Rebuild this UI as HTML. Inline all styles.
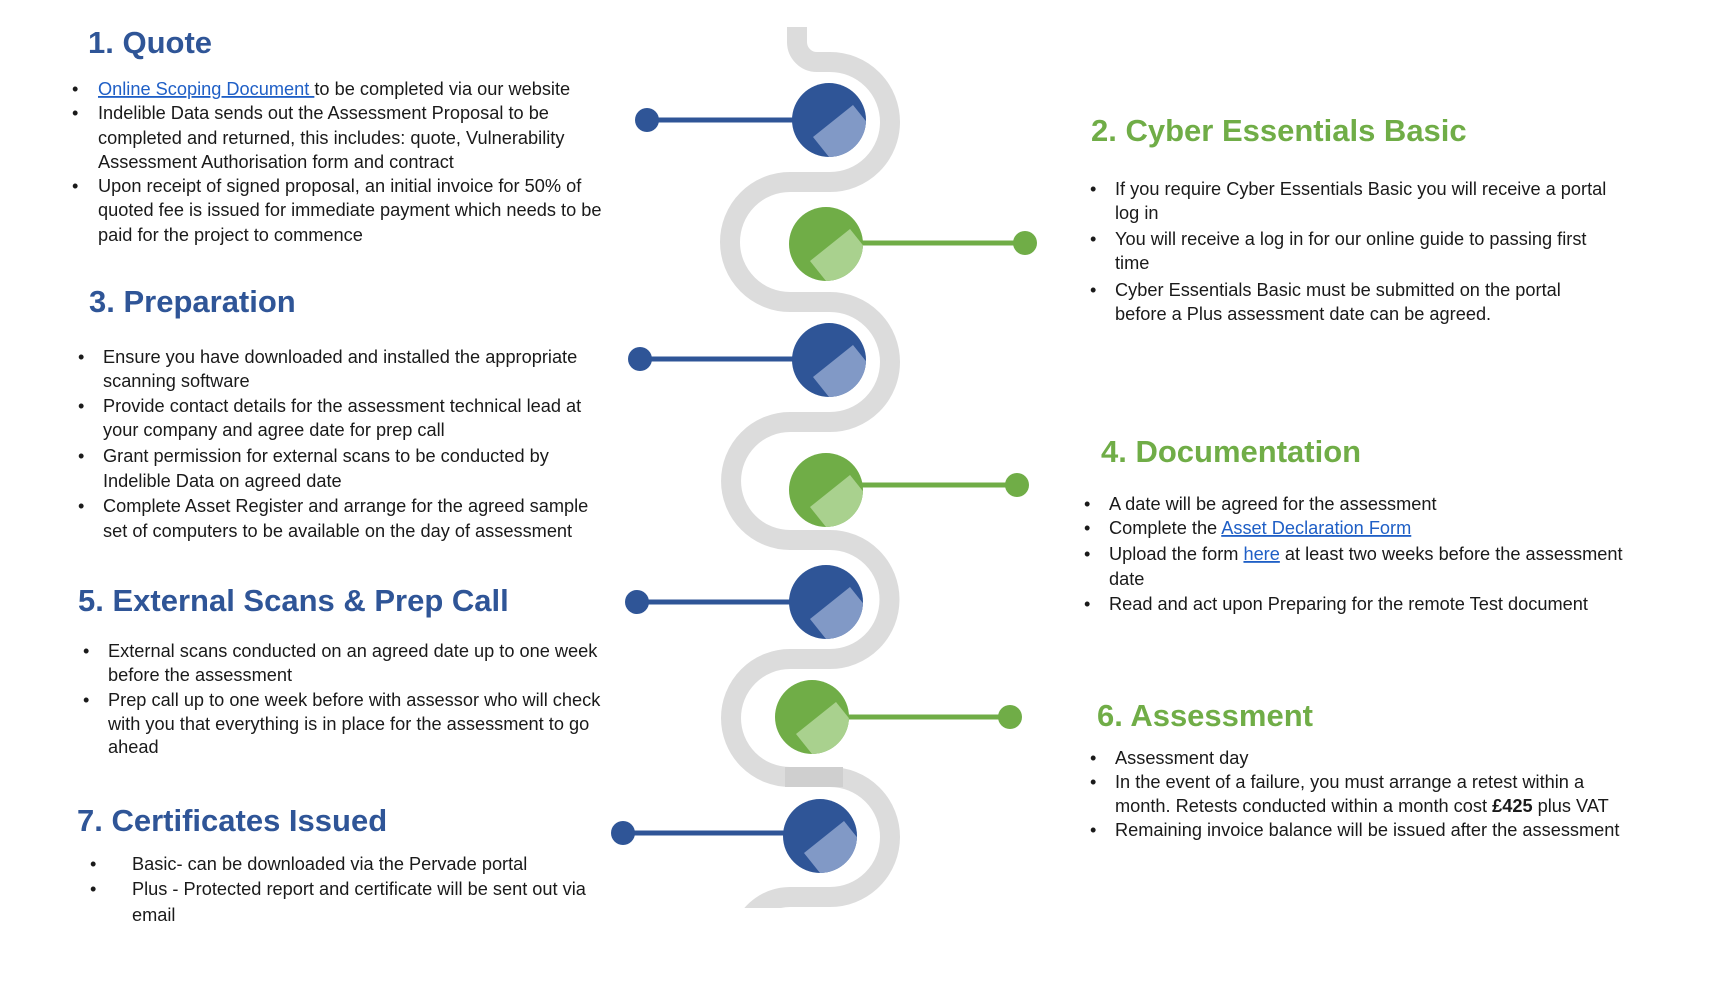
<!DOCTYPE html>
<html><head><meta charset="utf-8"><style>
html,body{margin:0;padding:0;background:#fff;}
svg{display:block;}
text{font-family:"Liberation Sans",Arial,sans-serif;}
.h{font-weight:bold;font-size:31px;}
.b{fill:#2F5597;}
.g{fill:#70AD47;}
.t{font-size:18.2px;fill:#1a1a1a;}
.l{fill:#1F5FC6;text-decoration:underline;}
</style></head><body>
<svg width="1714" height="995" viewBox="0 0 1714 995" xmlns="http://www.w3.org/2000/svg">
<defs>
<clipPath id="road"><rect x="0" y="0" width="1714" height="908"/></clipPath>
<clipPath id="cc"><circle cx="0" cy="0" r="37"/></clipPath>
<g id="nb"><circle cx="0" cy="0" r="37" fill="#2F5597"/><polygon clip-path="url(#cc)" points="-16,17 24,-15 56,25 16,57" fill="#8199C6"/></g>
<g id="ng"><circle cx="0" cy="0" r="37" fill="#70AD47"/><polygon clip-path="url(#cc)" points="-16,17 24,-15 56,25 16,57" fill="#A9D18E"/></g>
</defs>
<g clip-path="url(#road)">
<path d="M797,27 V42 A20,20 0 0 0 817,62 H830 A60,60 0 0 1 830,182 H790 A60,60 0 0 0 790,302 H830 A60,60 0 0 1 830,422 H790 A59,59 0 0 0 790,540 H830 A59.5,59.5 0 0 1 830,659 H790 A59,59 0 0 0 790,777 H830 A60,60 0 0 1 830,897 H790 A50,50 0 0 0 743,930" fill="none" stroke="#dcdcdc" stroke-width="20"/>
</g>
<rect x="785" y="767" width="58" height="20" fill="#cfcfcf"/>

<g stroke-width="5">
<line x1="647" y1="120" x2="800" y2="120" stroke="#2F5597"/>
<line x1="850" y1="243" x2="1025" y2="243" stroke="#70AD47"/>
<line x1="640" y1="359" x2="800" y2="359" stroke="#2F5597"/>
<line x1="850" y1="485" x2="1017" y2="485" stroke="#70AD47"/>
<line x1="637" y1="602" x2="800" y2="602" stroke="#2F5597"/>
<line x1="840" y1="717" x2="1010" y2="717" stroke="#70AD47"/>
<line x1="623" y1="833" x2="800" y2="833" stroke="#2F5597"/>
</g>
<circle cx="647" cy="120" r="12" fill="#2F5597"/>
<circle cx="1025" cy="243" r="12" fill="#70AD47"/>
<circle cx="640" cy="359" r="12" fill="#2F5597"/>
<circle cx="1017" cy="485" r="12" fill="#70AD47"/>
<circle cx="637" cy="602" r="12" fill="#2F5597"/>
<circle cx="1010" cy="717" r="12" fill="#70AD47"/>
<circle cx="623" cy="833" r="12" fill="#2F5597"/>

<use href="#nb" transform="translate(829,120)"/>
<use href="#ng" transform="translate(826,244)"/>
<use href="#nb" transform="translate(829,360)"/>
<use href="#ng" transform="translate(826,490)"/>
<use href="#nb" transform="translate(826,602)"/>
<use href="#ng" transform="translate(812,717)"/>
<use href="#nb" transform="translate(820,836)"/>

<text class="h b" x="88" y="53">1. Quote</text>
<g class="t">
<text x="72" y="95">•</text><text x="98" y="95"><tspan class="l">Online Scoping Document </tspan>to be completed via our website</text>
<text x="72" y="119">•</text><text x="98" y="119">Indelible Data sends out the Assessment Proposal to be</text>
<text x="98" y="144">completed and returned, this includes: quote, Vulnerability</text>
<text x="98" y="168">Assessment Authorisation form and contract</text>
<text x="72" y="192">•</text><text x="98" y="192">Upon receipt of signed proposal, an initial invoice for 50% of</text>
<text x="98" y="216">quoted fee is issued for immediate payment which needs to be</text>
<text x="98" y="241">paid for the project to commence</text>
</g>

<text class="h b" x="89" y="312">3. Preparation</text>
<g class="t">
<text x="78" y="363">•</text><text x="103" y="363">Ensure you have downloaded and installed the appropriate</text>
<text x="103" y="387">scanning software</text>
<text x="78" y="412">•</text><text x="103" y="412">Provide contact details for the assessment technical lead at</text>
<text x="103" y="436">your company and agree date for prep call</text>
<text x="78" y="462">•</text><text x="103" y="462">Grant permission for external scans to be conducted by</text>
<text x="103" y="487">Indelible Data on agreed date</text>
<text x="78" y="512">•</text><text x="103" y="512">Complete Asset Register and arrange for the agreed sample</text>
<text x="103" y="537">set of computers to be available on the day of assessment</text>
</g>

<text class="h b" x="78" y="611">5. External Scans &amp; Prep Call</text>
<g class="t">
<text x="83" y="657">•</text><text x="108" y="657">External scans conducted on an agreed date up to one week</text>
<text x="108" y="681">before the assessment</text>
<text x="83" y="706">•</text><text x="108" y="706">Prep call up to one week before with assessor who will check</text>
<text x="108" y="730">with you that everything is in place for the assessment to go</text>
<text x="108" y="753">ahead</text>
</g>

<text class="h b" x="77" y="831">7. Certificates Issued</text>
<g class="t">
<text x="90" y="870">•</text><text x="132" y="870">Basic- can be downloaded via the Pervade portal</text>
<text x="90" y="895">•</text><text x="132" y="895">Plus - Protected report and certificate will be sent out via</text>
<text x="132" y="921">email</text>
</g>

<text class="h g" x="1091" y="141">2. Cyber Essentials Basic</text>
<g class="t">
<text x="1090" y="195">•</text><text x="1115" y="195">If you require Cyber Essentials Basic you will receive a portal</text>
<text x="1115" y="219">log in</text>
<text x="1090" y="245">•</text><text x="1115" y="245">You will receive a log in for our online guide to passing first</text>
<text x="1115" y="269">time</text>
<text x="1090" y="296">•</text><text x="1115" y="296">Cyber Essentials Basic must be submitted on the portal</text>
<text x="1115" y="320">before a Plus assessment date can be agreed.</text>
</g>

<text class="h g" x="1101" y="462">4. Documentation</text>
<g class="t">
<text x="1084" y="510">•</text><text x="1109" y="510">A date will be agreed for the assessment</text>
<text x="1084" y="534">•</text><text x="1109" y="534">Complete the <tspan class="l">Asset Declaration Form</tspan></text>
<text x="1084" y="560">•</text><text x="1109" y="560">Upload the form <tspan class="l">here</tspan> at least two weeks before the assessment</text>
<text x="1109" y="585">date</text>
<text x="1084" y="610">•</text><text x="1109" y="610">Read and act upon Preparing for the remote Test document</text>
</g>

<text class="h g" x="1097" y="726">6. Assessment</text>
<g class="t">
<text x="1090" y="764">•</text><text x="1115" y="764">Assessment day</text>
<text x="1090" y="788">•</text><text x="1115" y="788">In the event of a failure, you must arrange a retest within a</text>
<text x="1115" y="812">month. Retests conducted within a month cost <tspan font-weight="bold">£425</tspan> plus VAT</text>
<text x="1090" y="836">•</text><text x="1115" y="836">Remaining invoice balance will be issued after the assessment</text>
</g>
</svg>
</body></html>
